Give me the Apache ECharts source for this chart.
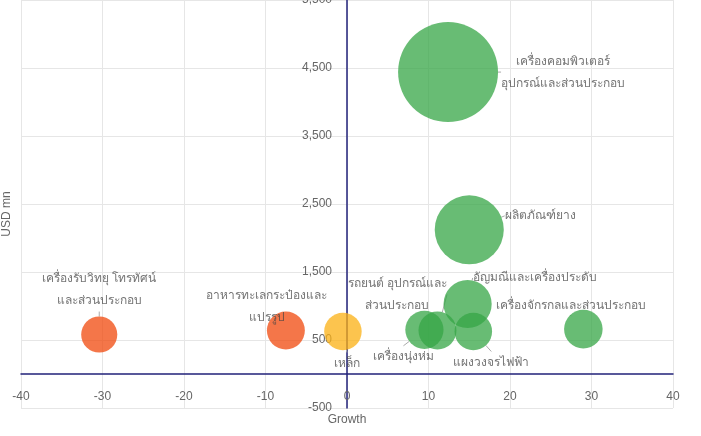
<!DOCTYPE html>
<html>
<head>
<meta charset="utf-8">
<script src="https://cdn.jsdelivr.net/npm/echarts@6/dist/echarts.min.js"></script>
<style>html,body{margin:0;padding:0;background:#fff}#c{width:701px;height:436px}</style>
</head>
<body>
<div id="c"></div>
<script>
var categories = [
  'เครื่องรับวิทยุ โทรทัศน์\nและส่วนประกอบ',
  'อาหารทะเลกระป๋องและ\nแปรรูป',
  'เหล็ก',
  'เครื่องนุ่งห่ม',
  'รถยนต์ อุปกรณ์และ\nส่วนประกอบ',
  'แผงวงจรไฟฟ้า',
  'อัญมณีและเครื่องประดับ',
  'เครื่องจักรกลและส่วนประกอบ',
  'ผลิตภัณฑ์ยาง',
  'เครื่องคอมพิวเตอร์\nอุปกรณ์และส่วนประกอบ'
];
var growth = [-30.4, -7.5, -0.5, 9.5, 11.1, 15.5, 14.8, 29.0, 15.0, 12.4];
var valueUSD = [580, 640, 625, 650, 640, 625, 1030, 660, 2120, 4440];
var xTicks = [-40, -30, -20, -10, 0, 10, 20, 30, 40];
var yTicks = [-500, 500, 1500, 2500, 3500, 4500, 5500];

// label placement (styling, kept separate from data)
var labelShift = [[0,-45],[-19,-24],[4,32],[-21,27],[-40,-36],[18,31],[67,-26],[-12,-24],[71,-14],[115,0]];

var data = categories.map(function (n, i) { return { name: n, value: [growth[i], valueUSD[i]] }; });

var W = 701, H = 436, GL = 21, GR = 28, GT = 0, GB = 28;
var gw = W - GL - GR, gh = H - GT - GB;
var xMin = xTicks[0], xMax = xTicks[xTicks.length - 1];
var yMin = yTicks[0], yMax = yTicks[yTicks.length - 1];
// shift axes so they sit on the zero lines
var yAxisOffset = -gw * (0 - xMin) / (xMax - xMin);
var xAxisOffset = -gh * (0 - yMin) / (yMax - yMin);

var chart = echarts.init(document.getElementById('c'), null, { renderer: 'canvas' });
var FONT = '"Liberation Sans", Arial, sans-serif';
var TFONT = '"Noto Sans", "DejaVu Sans", sans-serif';
chart.setOption({
  animation: false,
  textStyle: { fontFamily: FONT },
  grid: { left: GL, right: GR, top: GT, bottom: GB, containLabel: false, outerBoundsMode: 'none' },
  xAxis: {
    type: 'value', min: xMin, max: xMax, interval: 10, position: 'bottom', offset: xAxisOffset,
    name: 'Growth', nameLocation: 'middle', nameGap: 40,
    nameTextStyle: { color: '#666', fontSize: 12, fontFamily: FONT },
    axisLine: { onZero: false, lineStyle: { color: '#22227a', width: 1.5 } },
    axisTick: { show: false },
    axisLabel: { color: '#666', fontSize: 12, margin: 17, fontFamily: FONT },
    splitLine: { show: true, lineStyle: { color: '#e6e6e6' } }
  },
  yAxis: {
    type: 'value', min: yMin, max: yMax, interval: 1000, position: 'left', offset: yAxisOffset,
    name: 'USD mn', nameLocation: 'middle', nameGap: 334,
    nameTextStyle: { color: '#666', fontSize: 12, fontFamily: FONT, padding: [0, 20, 0, 0] },
    axisLine: { onZero: false, lineStyle: { color: '#22227a', width: 1.5 } },
    axisTick: { show: false },
    axisLabel: { color: '#666', fontSize: 12, margin: 15, fontFamily: FONT,
      formatter: function (v) { return v.toLocaleString('en-US'); } },
    splitLine: { show: true, lineStyle: { color: '#e6e6e6' } }
  },
  series: [{
    type: 'scatter',
    data: data,
    symbolSize: function (d) { return 1.5 * Math.sqrt(d[1]); },
    itemStyle: {
      opacity: 0.75,
      color: function (p) {
        var g = p.value[0];
        return g < -5 ? '#f0480c' : (g < 0 ? '#fbb013' : '#36a646');
      }
    },
    label: {
      show: true, position: 'inside',
      formatter: function (p) { return p.name; },
      color: '#444', fontSize: 12, lineHeight: 22, fontFamily: TFONT, align: 'center'
    },
    labelLine: { show: true, lineStyle: { color: '#aaa', width: 1 } },
    labelLayout: function (p) {
      var s = labelShift[p.dataIndex];
      return { dx: s[0], dy: s[1] };
    },
    emphasis: { disabled: true }
  }]
});
</script>
</body>
</html>
